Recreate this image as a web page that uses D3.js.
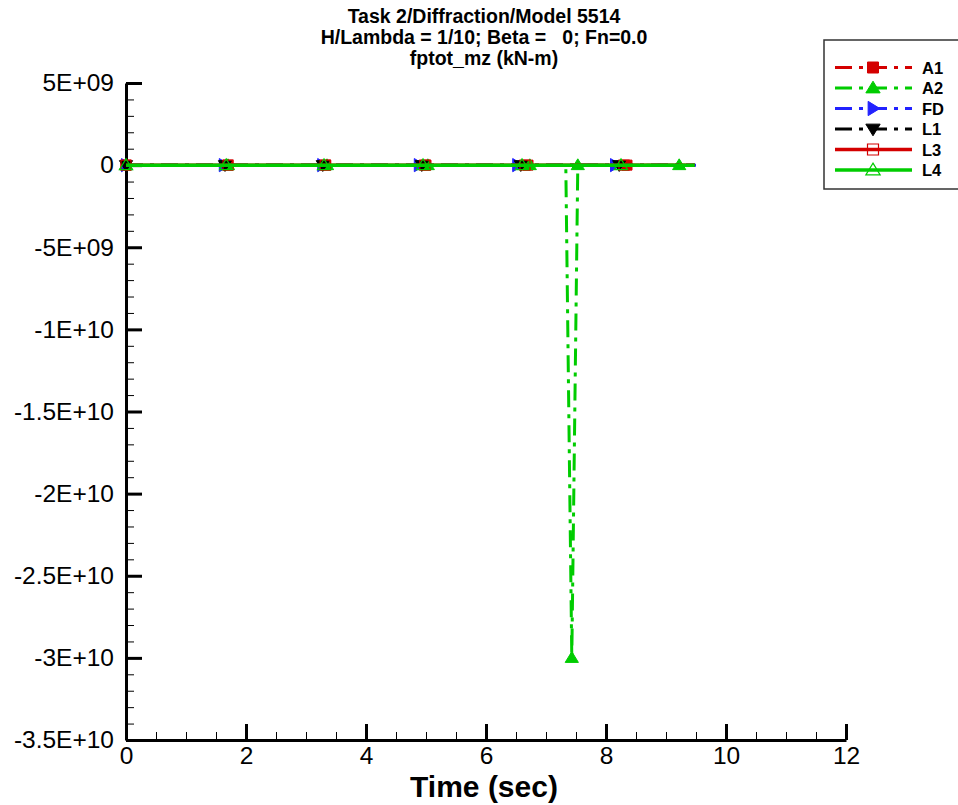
<!DOCTYPE html>
<html>
<head>
<meta charset="utf-8">
<script src="https://cdn.jsdelivr.net/npm/d3@7"></script>
<style>
  body { margin: 0; background: #fff; }
  svg { display: block; font-family: "Liberation Sans", Arial, sans-serif; }
</style>
</head>
<body>
<svg id="chart" width="958" height="805"></svg>
<script>
// ---------------- DATA ----------------
const titleLines = ["Task 2/Diffraction/Model 5514", "H/Lambda = 1/10; Beta =   0; Fn=0.0", "fptot_mz (kN-m)"];
const xLabel = "Time (sec)";
const seriesNames = ["A1", "A2", "FD", "L1", "L3", "L4"];

const xTicks = [0, 2, 4, 6, 8, 10, 12];
const xTickLabels = ["0", "2", "4", "6", "8", "10", "12"];
const yTicks = [5e9, 0, -5e9, -1e10, -1.5e10, -2e10, -2.5e10, -3e10, -3.5e10];
const yTickLabels = ["5E+09", "0", "-5E+09", "-1E+10", "-1.5E+10", "-2E+10", "-2.5E+10", "-3E+10", "-3.5E+10"];

// time (s) and value (kN-m) for each series
const A1_t = [0, 1.70, 3.33, 5.00, 6.70, 8.35, 9.48];
const A1_v = [0, 0, 0, 0, 0, 0, 0];
const A1_marks = [0, 1, 2, 3, 4, 5];

const A2_t = [0, 1.70, 3.35, 5.03, 6.73, 7.33, 7.43, 7.53, 9.22, 9.48];
const A2_v = [0, 0, 0, 0, 0, 0, -3.0e10, 0, 0, 0];
const A2_marks = [0, 1, 2, 3, 4, 6, 7, 8];

const FD_t = [0, 1.63, 3.27, 4.88, 6.52, 8.15, 9.50];
const FD_v = [0, 0, 0, 0, 0, 0, 0];
const FD_marks = [0, 1, 2, 3, 4, 5];

const L1_t = [0, 1.65, 3.28, 4.93, 6.58, 8.22, 9.48];
const L1_v = [0, 0, 0, 0, 0, 0, 0];
const L1_marks = [0, 1, 2, 3, 4, 5];

const L3_t = [0, 1.70, 3.32, 4.98, 6.65, 8.30, 9.48];
const L3_v = [0, 0, 0, 0, 0, 0, 0];
const L3_marks = [0, 1, 2, 3, 4, 5];

const L4_t = [0, 1.67, 3.30, 4.95, 6.60, 8.25, 9.48];
const L4_v = [0, 0, 0, 0, 0, 0, 0];
const L4_marks = [0, 1, 2, 3, 4, 5];

// ---------------- STYLE ----------------
const styles = {
  A1: { color: "#d40000", dash: "17,7,4,7", width: 3, marker: "square", fill: true },
  A2: { color: "#00cc00", dash: "17,7,4,7", width: 3, marker: "triUp", fill: true },
  FD: { color: "#2222ff", dash: "17,7,4,7", width: 3, marker: "triRight", fill: true },
  L1: { color: "#000000", dash: "17,7,4,7", width: 3, marker: "triDown", fill: true },
  L3: { color: "#d40000", dash: null, width: 3.5, marker: "square", fill: false },
  L4: { color: "#00cc00", dash: null, width: 3.5, marker: "triUp", fill: false }
};
const seriesData = {
  A1: [A1_t, A1_v, A1_marks], A2: [A2_t, A2_v, A2_marks], FD: [FD_t, FD_v, FD_marks],
  L1: [L1_t, L1_v, L1_marks], L3: [L3_t, L3_v, L3_marks], L4: [L4_t, L4_v, L4_marks]
};

const svg = d3.select("#chart");
const x = d3.scaleLinear().domain([0, 12]).range([126, 846]);
const y = d3.scaleLinear().domain([-3.5e10, 5e9]).range([740, 83]);

// Title
svg.append("g").selectAll("text").data(titleLines).join("text")
  .attr("x", 484).attr("y", (d, i) => 23 + i * 21)
  .attr("text-anchor", "middle").attr("font-size", 19.5).attr("font-weight", "bold")
  .style("white-space", "pre").attr("xml:space", "preserve")
  .text(d => d);

function markerPath(type, s) {
  const h = s / 2;
  switch (type) {
    case "square": return `M${-h},${-h}H${h}V${h}H${-h}Z`;
    case "triUp": return `M0,${-h * 1.05}L${h * 1.1},${h * 0.75}L${-h * 1.1},${h * 0.75}Z`;
    case "triDown": return `M0,${h * 1.05}L${h * 1.1},${-h * 0.75}L${-h * 1.1},${-h * 0.75}Z`;
    case "triRight": return `M${h * 1.05},0L${-h * 0.75},${h * 1.1}L${-h * 0.75},${-h * 1.1}Z`;
  }
}
function drawMarker(g, type, cx, cy, s, color, fill) {
  g.append("path").attr("d", markerPath(type, s))
    .attr("transform", `translate(${cx},${cy})`)
    .attr("fill", fill ? color : "none")
    .attr("stroke", color).attr("stroke-width", fill ? 1 : 1.2);
}

// Axes
const yMinor = d3.range(-35, 6).map(v => v * 1e9).filter(v => !yTicks.includes(v));
const xMinor = d3.range(0, 25).map(v => v * 0.5).filter(v => !xTicks.includes(v));

const gy = svg.append("g").attr("transform", `translate(${x(0)},0)`);
gy.call(d3.axisLeft(y).tickValues(yMinor).tickSizeInner(-8).tickSizeOuter(0).tickFormat(""));
gy.selectAll(".tick line").attr("stroke-width", 1);
gy.select(".domain").remove();
const gy2 = svg.append("g").attr("transform", `translate(${x(0)},0)`);
gy2.call(d3.axisLeft(y).tickValues(yTicks).tickSizeInner(-16).tickSizeOuter(0).tickPadding(12)
  .tickFormat((d, i) => yTickLabels[i]));
gy2.selectAll(".tick line").attr("stroke-width", 3);
gy2.select(".domain").attr("stroke-width", 3);
gy2.selectAll("text").attr("font-size", 24.5).attr("font-family", "Liberation Sans, Arial, sans-serif").attr("fill", "#000");

const gx = svg.append("g").attr("transform", `translate(0,${y(-3.5e10)})`);
gx.call(d3.axisBottom(x).tickValues(xMinor).tickSizeInner(-8).tickSizeOuter(0).tickFormat(""));
gx.selectAll(".tick line").attr("stroke-width", 1);
gx.select(".domain").remove();
const gx2 = svg.append("g").attr("transform", `translate(0,${y(-3.5e10)})`);
gx2.call(d3.axisBottom(x).tickValues(xTicks).tickSizeInner(-16).tickSizeOuter(0).tickPadding(7)
  .tickFormat((d, i) => xTickLabels[i]));
gx2.selectAll(".tick line").attr("stroke-width", 3);
gx2.select(".domain").attr("stroke-width", 3);
gx2.selectAll("text").attr("font-size", 24.5).attr("font-family", "Liberation Sans, Arial, sans-serif").attr("fill", "#000");

svg.append("text").attr("x", 484).attr("y", 797).attr("text-anchor", "middle")
  .attr("font-size", 30).attr("font-weight", "bold").text(xLabel);

// Series
const plot = svg.append("g");
seriesNames.forEach(name => {
  const [ts, vs, mk] = seriesData[name];
  const st = styles[name];
  const pts = ts.map((t, i) => [t, vs[i]]);
  const line = d3.line().x(d => x(d[0])).y(d => y(d[1]));
  plot.append("path").datum(pts).attr("d", line)
    .attr("fill", "none").attr("stroke", st.color).attr("stroke-width", st.width)
    .attr("stroke-dasharray", st.dash);
  mk.forEach(i => drawMarker(plot, st.marker, x(ts[i]), y(vs[i]), st.marker === "square" ? 10 : 12, st.color, st.fill));
});

// Legend
const lg = svg.append("g");
lg.append("rect").attr("x", 824).attr("y", 40).attr("width", 150).attr("height", 149)
  .attr("fill", "#fff").attr("stroke", "#333").attr("stroke-width", 1.5);
seriesNames.forEach((name, i) => {
  const st = styles[name];
  const cy = 67.5 + i * 20.5;
  lg.append("line").attr("x1", 835).attr("x2", 912).attr("y1", cy).attr("y2", cy)
    .attr("stroke", st.color).attr("stroke-width", st.width).attr("stroke-dasharray", st.dash);
  drawMarker(lg, st.marker, 873, cy, st.marker === "square" ? 11 : 13, st.color, st.fill);
  lg.append("text").attr("x", 922).attr("y", cy + 6).attr("font-size", 16.5).attr("font-weight", "bold").text(name);
});
</script>
</body>
</html>
